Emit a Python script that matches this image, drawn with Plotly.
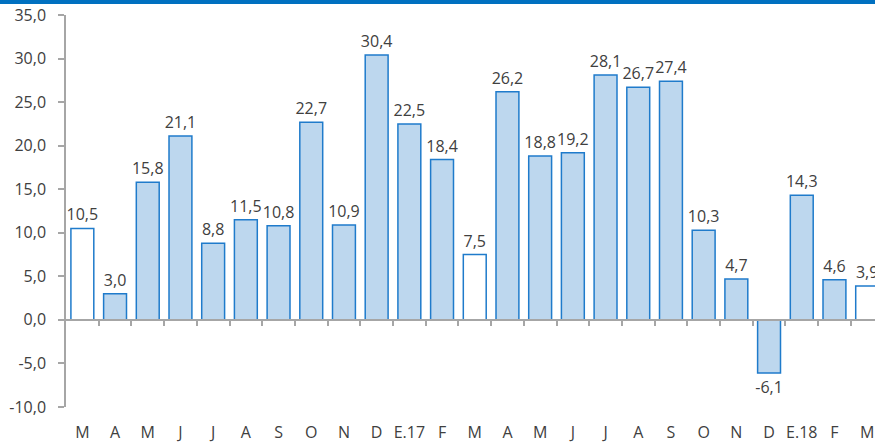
import plotly.graph_objects as go

categories = ["M", "A", "M", "J", "J", "A", "S", "O", "N", "D", "E.17", "F",
              "M", "A", "M", "J", "J", "A", "S", "O", "N", "D", "E.18", "F", "M"]
values = [10.5, 3.0, 15.8, 21.1, 8.8, 11.5, 10.8, 22.7, 10.9, 30.4, 22.5, 18.4,
          7.5, 26.2, 18.8, 19.2, 28.1, 26.7, 27.4, 10.3, 4.7, -6.1, 14.3, 4.6, 3.9]
white_idx = [0, 12, 24]
y_ticks = [-10, -5, 0, 5, 10, 15, 20, 25, 30, 35]

x = list(range(len(categories)))
fill = ["#FFFFFF" if i in white_idx else "#BDD7EE" for i in x]
labels = [f"{v:.1f}".replace(".", ",") for v in values]

FONT = "Open Sans"
TXT = "#404040"
FS = 16

fig = go.Figure()
fig.add_trace(go.Bar(
    x=x, y=values,
    marker=dict(color=fill, line=dict(color="#1F7BCB", width=1.5)),
    text=labels, textposition="outside", constraintext="none",
    textfont=dict(family=FONT, size=FS, color=TXT),
    cliponaxis=False, hoverinfo="skip",
))
# invisible trace to anchor the zero-line axis
fig.add_trace(go.Scatter(x=[0], y=[0], xaxis="x2", mode="markers",
                         marker=dict(opacity=0), hoverinfo="skip", showlegend=False))

xr = [-0.5, 24.24]
fig.update_layout(
    width=875, height=442,
    margin=dict(l=66, r=0, t=15, b=35, autoexpand=False),
    paper_bgcolor="white", plot_bgcolor="white",
    showlegend=False, bargap=0.3,
    font=dict(family=FONT, size=FS, color=TXT),
    xaxis=dict(range=xr, tickmode="array", tickvals=x, ticktext=categories,
               showline=False, showgrid=False, zeroline=False, automargin=False,
               ticks="outside", ticklen=11, tickcolor="rgba(0,0,0,0)",
               tickfont=dict(family=FONT, size=FS, color=TXT)),
    xaxis2=dict(range=xr, overlaying="x", anchor="free", position=10/45,
                showline=True, linecolor="#A6A6A6", linewidth=1.5,
                ticks="outside", ticklen=5, tickcolor="#A6A6A6", tickwidth=1.5,
                tickmode="array", tickvals=[i + 0.5 for i in x], automargin=False,
                showticklabels=False, showgrid=False, zeroline=False),
    yaxis=dict(range=[-10, 35], tickmode="array", tickvals=y_ticks,
               ticktext=[f"{v:.1f}".replace(".", ",") for v in y_ticks],
               showline=True, linecolor="#A6A6A6", linewidth=1.5, automargin=False,
               ticks="outside", ticklen=6, tickcolor="#A6A6A6", tickwidth=1.5,
               ticklabelstandoff=9,
               showgrid=False, zeroline=False,
               tickfont=dict(family=FONT, size=FS, color=TXT)),
    shapes=[dict(type="rect", xref="paper", yref="paper",
                 x0=-66/809, x1=1.0, y0=1 + 11/392, y1=1 + 16/392,
                 fillcolor="#0070C0", line=dict(width=0), layer="above")],
)
fig.write_html("out.html", config={"displayModeBar": False},
               post_script="document.body.style.margin='0';document.body.style.overflow='hidden';")
